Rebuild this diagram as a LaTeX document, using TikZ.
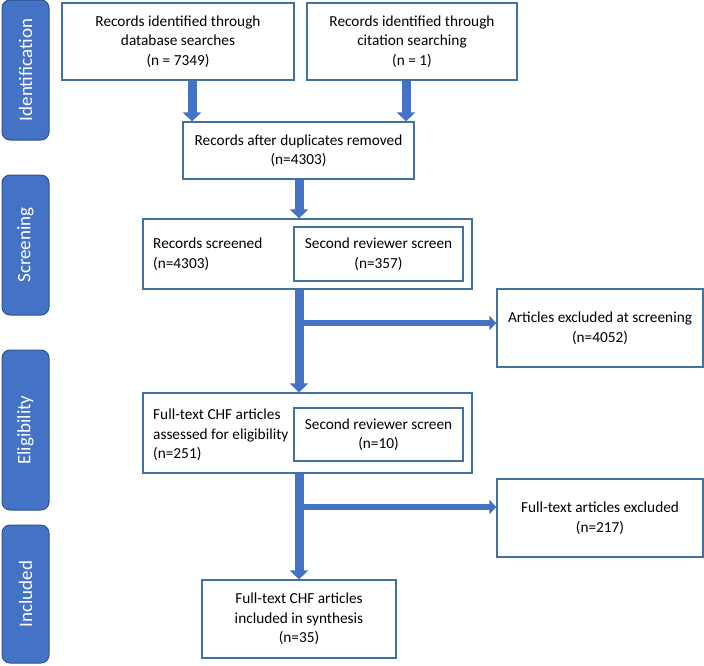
\documentclass[tikz,border=0pt]{standalone}
\usepackage{fontspec}
\setmainfont{Carlito}
\usetikzlibrary{arrows.meta}
\definecolor{arrowblue}{HTML}{4472C4}
\definecolor{boxline}{HTML}{41719C}
\definecolor{labline}{HTML}{2F528F}
\tikzset{
  flowbox/.style={draw=boxline, line width=1.2pt, fill=white, inner sep=0pt, align=center,
    font=\fontsize{15.3}{19.5}\selectfont},
  flowtext/.style={inner sep=0pt, align=left, font=\fontsize{15.3}{19.5}\selectfont},
  sidelab/.style={draw=labline, line width=1pt, fill=arrowblue, rounded corners=8pt,
    minimum width=47pt, inner sep=0pt},
  sidetext/.style={text=white, rotate=90, inner sep=0pt, font=\fontsize{19}{22}\selectfont},
  varrow/.style={draw=arrowblue, line width=9pt, -{Triangle[width=18pt,length=9pt]}},
  harrow/.style={draw=arrowblue, line width=6pt, -{Triangle[width=14pt,length=7pt]}}
}
\begin{document}
\begin{tikzpicture}[x=1pt,y=-1pt]
\useasboundingbox (0,0) rectangle (704,665);
% side labels
\node[sidelab, minimum height=140pt] (L1) at (25.5,70) {};
\node[sidetext] (L1t) at (L1.center) {Identification};
\node[sidelab, minimum height=140pt] (L2) at (25.5,245) {};
\node[sidetext] (L2t) at (L2.center) {Screening};
\node[sidelab, minimum height=160pt] (L3) at (25.5,430) {};
\node[sidetext] (L3t) at (L3.center) {Eligibility};
\node[sidelab, minimum height=138pt] (L4) at (25.5,594) {};
\node[sidetext] (L4t) at (L4.center) {Included};
% boxes
\node[flowbox, minimum width=232pt, minimum height=77pt] (A) at (178,41.5)
  {Records identified through\\database searches\\(n = 7349)};
\node[flowbox, minimum width=210pt, minimum height=77pt] (B) at (412,41.5)
  {Records identified through\\citation searching\\(n = 1)};
\node[flowbox, minimum width=231pt, minimum height=57pt] (C) at (298.5,150.5)
  {Records after duplicates removed\\(n=4303)};
\node[flowbox, minimum width=329pt, minimum height=70pt] (D) at (307.5,254) {};
\node[flowtext, anchor=west] (Dt) at (153,254) {Records screened\\(n=4303)};
\node[flowbox, minimum width=169pt, minimum height=54pt] (E) at (378.5,254)
  {Second reviewer screen\\(n=357)};
\node[flowbox, minimum width=206pt, minimum height=78pt] (G) at (600,328)
  {Articles excluded at screening\\(n=4052)};
\node[flowbox, minimum width=329pt, minimum height=80pt] (F) at (307.5,433) {};
\node[flowtext, anchor=west] (Ft) at (153,435) {Full-text CHF articles\\assessed for eligibility\\(n=251)};
\node[flowbox, minimum width=169pt, minimum height=53pt] (H) at (378.5,434.5)
  {Second reviewer screen\\(n=10)};
\node[flowbox, minimum width=206pt, minimum height=78pt] (I) at (600,518)
  {Full-text articles excluded\\(n=217)};
\node[flowbox, minimum width=194pt, minimum height=78pt] (J) at (299,619)
  {Full-text CHF articles\\included in synthesis\\(n=35)};
% branch points
\coordinate (b1) at (299,323);
\coordinate (b2) at (299,507);
% arrows
\draw[varrow] (A.south -| 192,0) -- (C.north -| 192,0);
\draw[varrow] (B.south -| 406,0) -- (C.north -| 406,0);
\draw[varrow] (C.south -| b1) -- (D.north -| b1);
\draw[varrow] (D.south -| b1) -- (F.north -| b1);
\draw[harrow] ([xshift=-4pt]b1) -- (G.west |- b1);
\draw[varrow] (F.south -| b2) -- (J.north -| b2);
\draw[harrow] ([xshift=-4pt]b2) -- (I.west |- b2);
\end{tikzpicture}
\end{document}
